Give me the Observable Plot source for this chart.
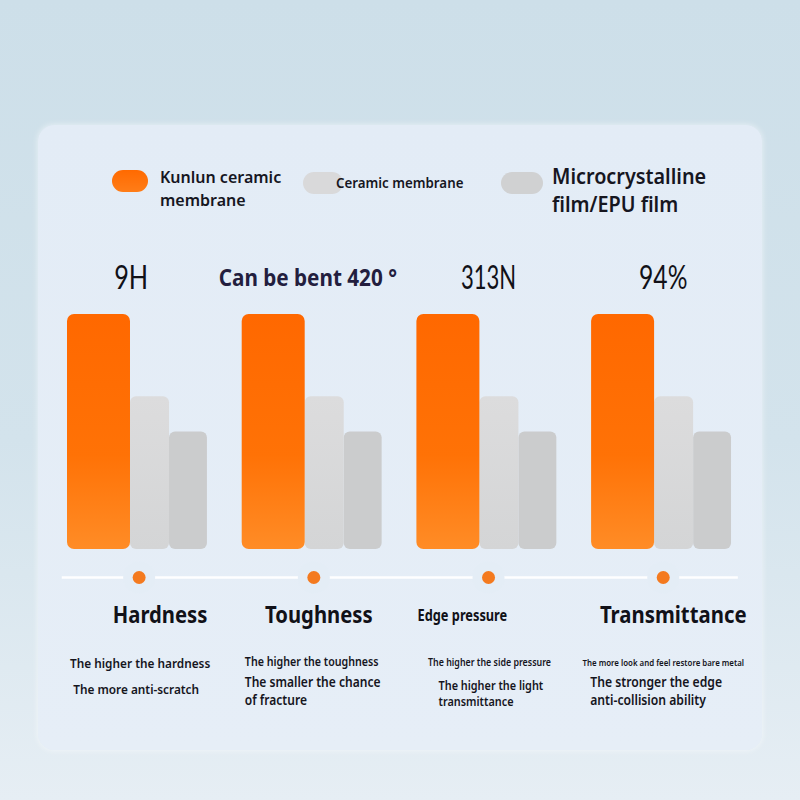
<!DOCTYPE html>
<html>
<head>
<meta charset="utf-8">
<script src="https://cdn.jsdelivr.net/npm/d3@7"></script>
<script src="https://cdn.jsdelivr.net/npm/@observablehq/plot@0.6"></script>
<style>
  html, body { margin: 0; padding: 0; }
  body {
    width: 800px; height: 800px; overflow: hidden; position: relative;
    background: linear-gradient(180deg, #cddfe9 0%, #d3e3ec 55%, #e6eef4 100%);
    font-family: "Noto Sans", "Open Sans", sans-serif;
  }
  #card {
    position: absolute; left: 38px; top: 125px; width: 724px; height: 625px;
    border-radius: 16px;
    background: linear-gradient(180deg, #e3ecf6 0%, #e6eef7 100%);
    box-shadow: 0 0 6px rgba(255,255,255,0.6);
  }
  .pill { position: absolute; border-radius: 11px; }
  .ltext { position: absolute; color: #16161f; font-weight: 600; white-space: nowrap; transform-origin: 0 50%; }
  #chart { position: absolute; left: 0; top: 250px; }
  #chart svg { overflow: visible; }
</style>
</head>
<body>
<div id="card"></div>
<div id="legend"></div>
<div id="chart"></div>
<script>
// ---------- data ----------
const categories = ["Hardness", "Toughness", "Edge pressure", "Transmittance"];
const seriesNames = ["Kunlun ceramic membrane", "Ceramic membrane", "Microcrystalline film/EPU film"];
const kunlunValues = [100, 100, 100, 100];
const ceramicValues = [65, 65, 65, 65];
const microValues = [50, 50, 50, 50];
const valueLabels = ["9H", "Can be bent 420 °", "313N", "94%"];
const descriptions = [
  ["The higher the hardness", "The more anti-scratch"],
  ["The higher the toughness", "The smaller the chance", "of fracture"],
  ["The higher the side pressure", "The higher the light", "transmittance"],
  ["The more look and feel restore bare metal", "The stronger the edge", "anti-collision ability"]
];

// ---------- layout (not data) ----------
const slotStart = [0, 0.3606, 0.584];
const slotEnd = [0.3606, 0.584, 0.801];
const groupCenter = 0.41;
const valueDx = [-8, -6, 0, 0];
const valueStyle = [
  {size: 32, weight: 400, color: "#111118", family: "Lato", sx: 0.79},
  {size: 23, weight: 700, color: "#231e3e", family: "Noto Sans", sx: 0.9},
  {size: 32, weight: 400, color: "#111118", family: "Lato", sx: 0.69},
  {size: 32, weight: 400, color: "#111118", family: "Lato", sx: 0.77}
];
const catLayout = [
  {anchor: "middle", dx: 21, size: 23, sx: 0.88},
  {anchor: "middle", dx: 5, size: 23, sx: 0.88},
  {anchor: "start", dx: -71, size: 16, sx: 0.8},
  {anchor: "middle", dx: 10, size: 23, sx: 0.885}
];
const descLayout = [
  [{anchor: "middle", dx: 1, dy: 114, size: 13, sx: 0.91}, {anchor: "middle", dx: -3, dy: 140, size: 13, sx: 0.91}],
  [{anchor: "start", dx: -69, dy: 113, size: 12, sx: 0.89}, {anchor: "start", dx: -69, dy: 133, size: 14, sx: 0.86}, {anchor: "start", dx: -69, dy: 151, size: 14, sx: 0.86}],
  [{anchor: "middle", dx: 1, dy: 113, size: 11.5, sx: 0.77}, {anchor: "start", dx: -50, dy: 136.5, size: 12.5, sx: 0.87}, {anchor: "start", dx: -50, dy: 152, size: 12.5, sx: 0.87}],
  [{anchor: "middle", dx: 0, dy: 113, size: 9.5, sx: 0.83}, {anchor: "start", dx: -73, dy: 133.5, size: 14, sx: 0.87}, {anchor: "start", dx: -73, dy: 151, size: 14, sx: 0.87}]
];

// ---------- legend (HTML) ----------
const legend = document.getElementById("legend");
const legendItems = [
  {pill: {left: 112, top: 170, w: 36, bg: "linear-gradient(180deg,#ff6a00,#ff7d18)"}, text: "Kunlun ceramic<br>membrane", tl: 160, tt: 166, fs: 16, lh: 23, sx: 1},
  {pill: {left: 303, top: 172, w: 40, bg: "#d9d9da"}, text: "Ceramic membrane", tl: 336, tt: 173, fs: 14, lh: 20, sx: 0.95},
  {pill: {left: 501, top: 172, w: 42, bg: "#d0d1d2"}, text: "Microcrystalline<br>film/EPU film", tl: 552, tt: 161, fs: 22, lh: 28, sx: 0.9}
];
legendItems.forEach((it, i) => {
  const p = document.createElement("div");
  p.className = "pill";
  Object.assign(p.style, {left: it.pill.left + "px", top: it.pill.top + "px", width: it.pill.w + "px", height: "22px", background: it.pill.bg});
  legend.appendChild(p);
  const t = document.createElement("div");
  t.className = "ltext";
  t.innerHTML = it.text;
  t.title = seriesNames[i];
  Object.assign(t.style, {left: it.tl + "px", top: it.tt + "px", fontSize: it.fs + "px", lineHeight: it.lh + "px", transform: `scaleX(${it.sx})`});
  legend.appendChild(t);
});

// ---------- table for marks ----------
const seriesValues = [kunlunValues, ceramicValues, microValues];
const bars = [];
categories.forEach((c, gi) => {
  seriesValues.forEach((vals, si) => {
    bars.push({category: c, series: seriesNames[si], gi, si, value: vals[gi],
      x1: gi + slotStart[si], x2: gi + slotEnd[si]});
  });
});
const groups = categories.map((c, gi) => ({category: c, gi, x: gi + groupCenter, top: kunlunValues[gi], label: valueLabels[gi]}));
const descRows = [];
descriptions.forEach((lines, gi) => lines.forEach((line, li) => {
  descRows.push({text: line, x: gi + groupCenter, ...descLayout[gi][li]});
}));

const marks = [];
const textScales = [];   // {idx, sx}: horizontal condensing per text mark
const barMarkIdx = {};   // series index -> mark index
[2, 1, 0].forEach(si => {
  barMarkIdx[si] = marks.length;
  marks.push(Plot.rect(bars.filter(d => d.si === si), {
    x1: "x1", x2: "x2", y1: 0, y2: "value",
    fill: ["#ff6a00", "#d9d9da", "#cbcccd"][si],
    rx: si === 0 ? 7 : 6
  }));
});
marks.push(Plot.ruleY([0], {x1: -0.03, x2: 3.84, dy: 28, stroke: "#ffffff", strokeWidth: 2.5, strokeOpacity: 0.95}));
marks.push(Plot.dot(groups, {x: "x", y: 0, dy: 28, r: 16, fill: "#e4edf6"}));
marks.push(Plot.dot(groups, {x: "x", y: 0, dy: 28, r: 6.5, fill: "#f47a1f"}));

function addText(data, opts, sx) {
  textScales.push({idx: marks.length, sx});
  marks.push(Plot.text(data, opts));
}
groups.forEach((g, gi) => {
  const s = valueStyle[gi];
  addText([g], {x: "x", y: "top", text: "label", dx: valueDx[gi], dy: -36,
    fontSize: s.size, fontWeight: s.weight, fill: s.color, fontFamily: s.family}, s.sx);
});
groups.forEach((g, gi) => {
  const l = catLayout[gi];
  addText([g], {x: "x", y: 0, text: "category", dx: l.dx, dy: 66, textAnchor: l.anchor,
    fontSize: l.size, fontWeight: 700, fill: "#111118", fontFamily: "Noto Sans"}, l.sx);
});
descRows.forEach(d => {
  addText([d], {x: "x", y: 0, text: "text", dx: d.dx, dy: d.dy, textAnchor: d.anchor,
    fontSize: d.size, fontWeight: 600, fill: "#15151d", fontFamily: "Noto Sans"}, d.sx);
});

const chart = Plot.plot({
  width: 800,
  height: 470,
  marginLeft: 67,
  marginRight: 34.2,
  marginTop: 64,
  marginBottom: 171,
  style: {background: "transparent", overflow: "visible"},
  x: {type: "linear", domain: [0, 4], axis: null},
  y: {domain: [0, 100], axis: null},
  marks
});

const svg = d3.select(chart);
const markNodes = Array.from(chart.children).filter(n => n.tagName.toLowerCase() === "g");

const defs = svg.insert("defs", ":first-child");
const grad = defs.append("linearGradient").attr("id", "orangeGrad").attr("x1", 0).attr("y1", 0).attr("x2", 0).attr("y2", 1);
grad.append("stop").attr("offset", "0%").attr("stop-color", "#ff6800");
grad.append("stop").attr("offset", "60%").attr("stop-color", "#ff7206");
grad.append("stop").attr("offset", "100%").attr("stop-color", "#ff8c26");
const gGrad = defs.append("linearGradient").attr("id", "grayGrad").attr("x1", 0).attr("y1", 0).attr("x2", 0).attr("y2", 1);
gGrad.append("stop").attr("offset", "0%").attr("stop-color", "#dcdcdd");
gGrad.append("stop").attr("offset", "100%").attr("stop-color", "#d4d5d6");
if (markNodes[barMarkIdx[0]]) d3.select(markNodes[barMarkIdx[0]]).selectAll("rect").attr("fill", "url(#orangeGrad)");
if (markNodes[barMarkIdx[1]]) d3.select(markNodes[barMarkIdx[1]]).selectAll("rect").attr("fill", "url(#grayGrad)");

// condense text horizontally around its anchor point (keep Plot's x/y attributes)
textScales.forEach(({idx, sx}) => {
  const node = markNodes[idx];
  if (!node) return;
  d3.select(node).selectAll("text").each(function() {
    const t = d3.select(this);
    const tr = t.attr("transform") || "";
    t.attr("transform", `${tr} scale(${sx},1)`);
  });
});

document.getElementById("chart").appendChild(chart);
</script>
</body>
</html>
